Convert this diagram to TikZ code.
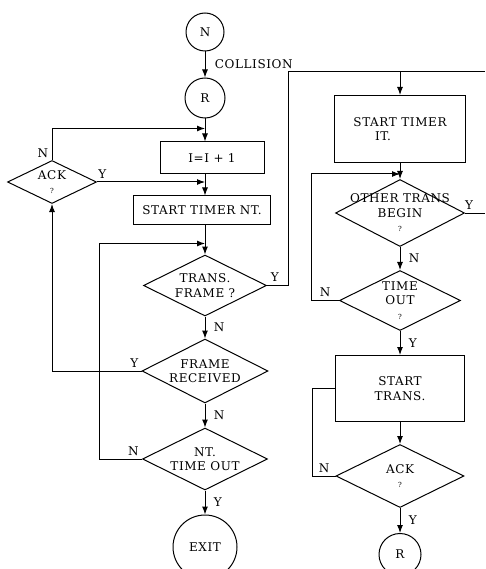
\documentclass[tikz,border=0pt]{standalone}
\usepackage{fontspec}
\setmainfont{DejaVu Serif}[LetterSpace=5]
\usetikzlibrary{arrows.meta, positioning, shapes.geometric}

\begin{document}
\begin{tikzpicture}[
    x=1pt, y=-1pt,
    >={Latex[length=8pt, width=6pt]},
    font=\fontsize{12}{14.5}\selectfont,
    line width=1pt,
    term/.style = {draw, circle, inner sep=0pt, minimum size=#1},
    term/.default = 40pt,
    block/.style = {draw, rectangle, align=center},
    decision/.style = {draw, diamond, inner sep=0pt},
    dtext/.style = {align=center, inner sep=0pt},
    arrow/.style = {->}
]
\useasboundingbox (0,0) coordinate (nw) rectangle (485,569) coordinate (se);

% =========================================================
% LEFT COLUMN: RETRY AND RECEIVE LOOP
% =========================================================
\node[term=38pt] (n) at (205,32) {N};
\node[term, below=26pt of n] (r) {R};

\node[block, minimum width=104pt, minimum height=32pt, below=23pt of r, xshift=7pt] (inc) {I=I + 1};
\node[block, minimum width=137pt, minimum height=28pt, below=21pt of inc, xshift=-10pt] (nt) {START TIMER NT.};

% Decisions (text as centre label, so the diamond keeps its size)
\node[decision, minimum width=123pt, minimum height=61pt, below=30pt of nt, xshift=3pt,
      label={[dtext]center:TRANS.\\FRAME ?}] (trans) {};
\node[decision, minimum width=126pt, minimum height=64pt, below=22pt of trans,
      label={[dtext]center:FRAME\\RECEIVED}] (frame) {};
\node[decision, minimum width=125pt, minimum height=62pt, below=24pt of frame,
      label={[dtext]center:NT.\\TIME OUT}] (ntout) {};
\node[term=64pt, below=24pt of ntout] (exit) {EXIT};

% ACK check on the far left
\node[decision, minimum width=89pt, minimum height=43pt,
      label={[dtext]center:ACK\\{\scriptsize ?}}] (ack) at (52,182) {};

% =========================================================
% RIGHT COLUMN: TRANSMIT
% =========================================================
\node[block, minimum width=131pt, minimum height=67pt] (itbox) at (400,129) {START TIMER\\IT.\hspace*{34pt}};
\node[decision, minimum width=129pt, minimum height=67pt, below=16pt of itbox,
      label={[dtext]center:OTHER TRANS\\BEGIN\\{\scriptsize ?}}] (other) {};
\node[decision, minimum width=121pt, minimum height=60pt, below=23pt of other,
      label={[dtext]center:TIME\\OUT\\{\scriptsize ?}}] (tout) {};
\node[block, minimum width=129pt, minimum height=66pt, below=24pt of tout] (stbox) {START\\TRANS.};
\node[decision, minimum width=128pt, minimum height=63pt, below=22pt of stbox,
      label={[dtext]center:ACK\\{\scriptsize ?}}] (ack2) {};
\node[term=42pt, below=25pt of ack2] (rr) {R};

% Junctions on the vertical lines
\coordinate (j1) at ([yshift=-10pt]r.south);
\coordinate (j2) at ([yshift=11pt]trans.north);
\coordinate (j3) at ([yshift=5pt]other.north);
\coordinate (tin) at ([yshift=23pt]itbox.north);

% =========================================================
% WIRING: LEFT COLUMN
% =========================================================
\draw[arrow] (n) -- node[right, xshift=6pt]{COLLISION} (r);
\draw[arrow] (r) -- (r |- inc.north);
\draw[arrow] (ack.north) |- node[pos=0.1, left]{N} (j1);
\draw[arrow] (ack.east) -- node[pos=0.05, above]{Y} (ack.east -| r);
\draw[arrow] (inc.south -| r) -- (nt.north -| r);
\draw[arrow] (nt.south -| trans) -- (trans.north);
\draw[arrow] (trans) -- node[right=5pt]{N} (frame);
\draw[arrow] (frame.west) -| node[pos=0.04, above]{Y} (ack.south);
\draw[arrow] (frame) -- node[right=5pt]{N} (ntout);
\draw[arrow] (ntout.west) -- node[pos=0.2, above]{N} ++(-43,0) |- (j2);
\draw[arrow] (ntout) -- node[right=5pt]{Y} (exit);

% Y of TRANS. FRAME leads over to the right column
\draw (trans.east) -- node[pos=0, above right]{Y} ++(21,0) |- (tin -| se);

% =========================================================
% WIRING: RIGHT COLUMN
% =========================================================
\draw[arrow] (tin) -- (itbox.north);
\draw[arrow] (itbox) -- (other);
\draw (other.east) -- node[pos=0.2, above]{Y} (other.east -| se);
\draw[arrow] (other) -- node[right=5pt]{N} (tout);
\draw[arrow] (tout.west) -- node[above]{N} ++(-28,0) |- (j3);
\draw[arrow] (tout) -- node[right=5pt]{Y} (stbox);
\draw[arrow] (stbox) -- (ack2);
\draw (ack2.west) -- node[above]{N} ++(-23,0) |- (stbox.west);
\draw[arrow] (ack2) -- node[right=5pt]{Y} (rr);

\end{tikzpicture}
\end{document}
